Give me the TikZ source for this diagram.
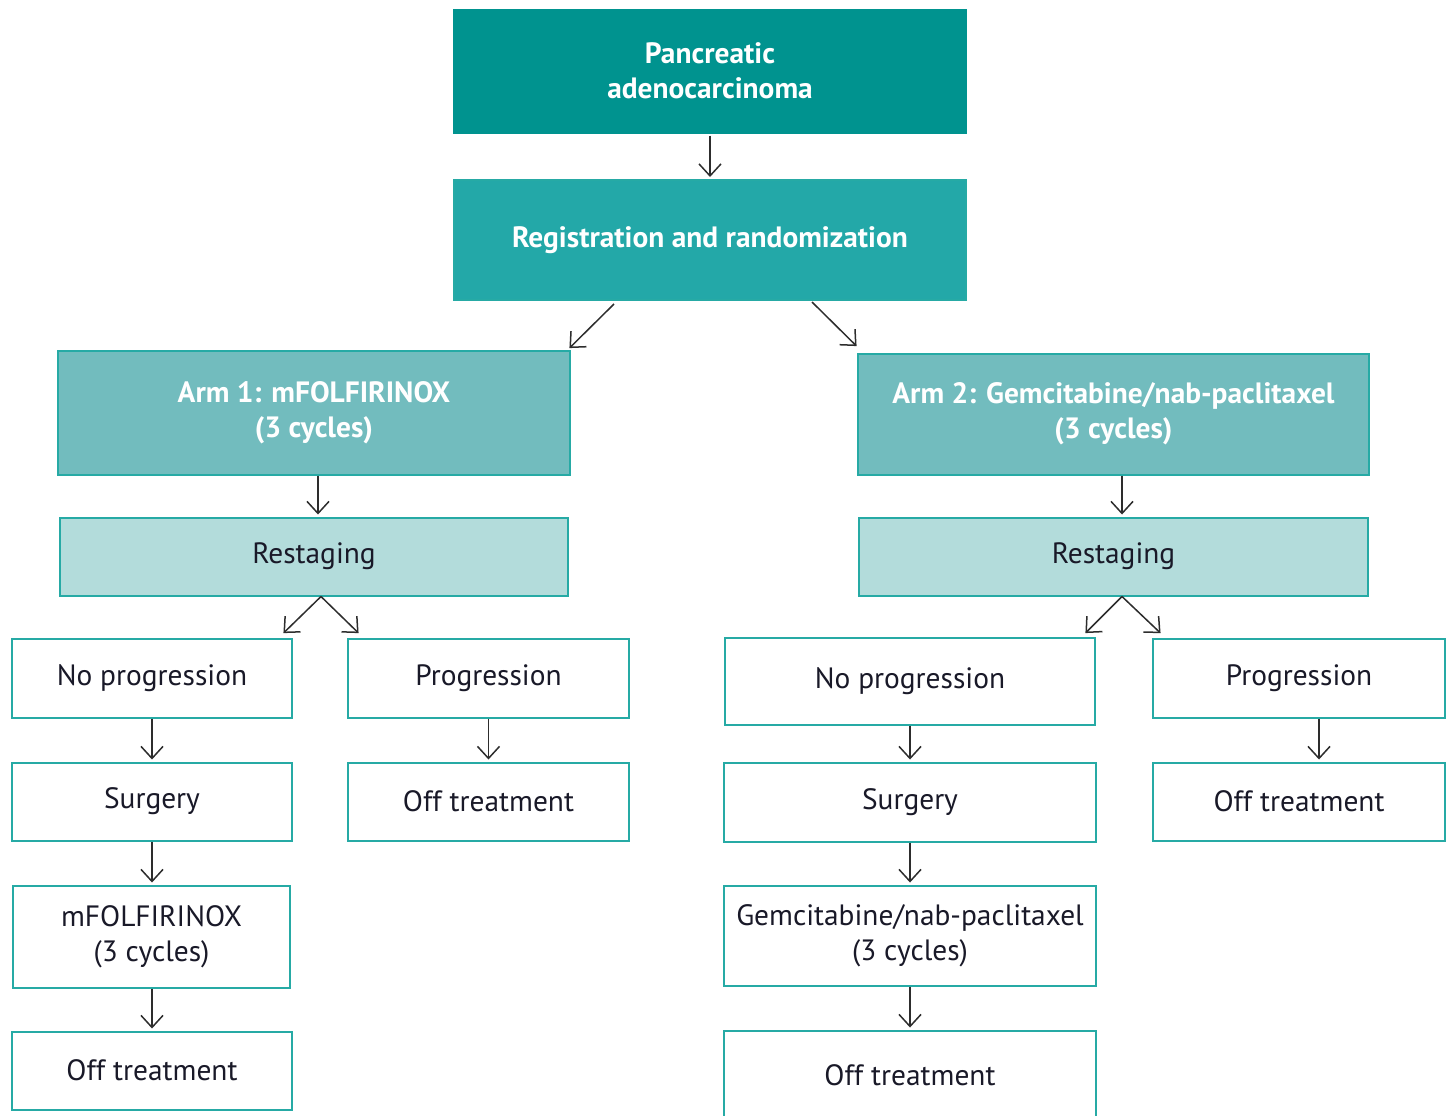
\documentclass[tikz,border=0pt]{standalone}
\usepackage{fontspec}
\setmainfont{PT Sans}
\usetikzlibrary{calc,arrows.meta}
\definecolor{cdark}{RGB}{0,147,143}
\definecolor{creg}{RGB}{35,168,168}
\definecolor{carm}{RGB}{114,188,190}
\definecolor{crest}{RGB}{179,220,219}
\definecolor{cborder}{RGB}{38,170,165}
\definecolor{ctext}{RGB}{25,25,40}
\definecolor{carrow}{RGB}{45,45,45}
\tikzset{
  sz/.style 2 args={minimum width=#1*0.5pt, minimum height=#2*0.5pt},
  box/.style={draw=cborder, line width=1pt, inner sep=0pt, align=center,
    font=\fontsize{14.7}{17.5}\selectfont, text=ctext},
  hbox/.style={box, text=white, font=\fontsize{14.7}{17.5}\selectfont\bfseries},
  wbox/.style={box, fill=white},
  arr/.style={draw=carrow, line width=0.75pt, -{Straight Barb[length=6pt,width=11pt]}, shorten >=1pt}
}
\begin{document}
\begin{tikzpicture}[x=0.5pt,y=-0.5pt]
\useasboundingbox (0,0) rectangle (1446,1115);
\clip (0,0) rectangle (1446,1115);
\fill[white] (0,0) rectangle (1446,1115);
% top
\node[hbox, fill=cdark, draw=cdark, sz={512}{123}] (pan) at (710,71) {Pancreatic\\adenocarcinoma};
\node[hbox, fill=creg, sz={512}{120}] (reg) at (710,240) {Registration and randomization};
\node[hbox, fill=carm, sz={512}{124}] (arm1) at (314,412.5) {Arm 1: mFOLFIRINOX\\(3 cycles)};
\node[hbox, fill=carm, sz={511}{121}] (arm2) at (1113.5,414) {Arm 2: Gemcitabine/nab-paclitaxel\\(3 cycles)};
\node[box, fill=crest, sz={508}{78}] (rest1) at (314,556.5) {Restaging};
\node[box, fill=crest, sz={509}{78}] (rest2) at (1113.5,556.5) {Restaging};
% left arm
\node[wbox, sz={280}{79}] (np1) at (152,678) {No progression};
\node[wbox, sz={281}{79}] (pr1) at (488.5,678) {Progression};
\node[wbox, sz={280}{78}] (su1) at (152,801.5) {Surgery};
\node[wbox, sz={281}{78}] (ot1) at (488.5,801.5) {Off treatment};
\node[wbox, sz={277}{102}] (mf) at (151.5,936.5) {mFOLFIRINOX\\(3 cycles)};
\node[wbox, sz={280}{78}] (ot2) at (152,1070.5) {Off treatment};
% right arm
\node[wbox, sz={370}{87}] (np2) at (910,681) {No progression};
\node[wbox, sz={292}{79}] (pr2) at (1299,678) {Progression};
\node[wbox, sz={372}{79}] (su2) at (910,802) {Surgery};
\node[wbox, sz={292}{78}] (ot3) at (1299,801.5) {Off treatment};
\node[wbox, sz={372}{100}] (gem) at (910,935.5) {Gemcitabine/nab-paclitaxel\\(3 cycles)};
\node[wbox, sz={372}{90}] (ot4) at (910,1075.5) {Off treatment};
% arrows
\draw[arr] ($(pan.south)+(0,2)$) -- (reg.north);
\draw[arr] ($(reg.south)+(-96,3)$) -- ($(arm1.north east)+(-3,0)$);
\draw[arr] ($(reg.south)+(102,1)$) -- ($(arm2.north west)+(1,-5)$);
\draw[arr] ($(arm1.south)+(4,0)$) -- ($(rest1.north)+(4,0)$);
\draw[arr] ($(arm2.south)+(8.5,0)$) -- ($(rest2.north)+(8.5,0)$);
\draw[arr] ($(rest1.south)+(7,0)$) -- ($(np1.north east)+(-11,-3)$);
\draw[arr] ($(rest1.south)+(7,0)$) -- ($(pr1.north west)+(13,-3)$);
\draw[arr] ($(rest2.south)+(8.5,0)$) -- ($(np2.north east)+(-12,-2)$);
\draw[arr] ($(rest2.south)+(8.5,0)$) -- ($(pr2.north west)+(10,-3)$);
\draw[arr] (np1) -- (su1);
\draw[arr] (su1) -- (su1 |- mf.north);
\draw[arr] (su1 |- mf.south) -- (ot2);
\draw[arr] (pr1) -- (ot1);
\draw[arr] (np2) -- (su2);
\draw[arr] (su2) -- (gem);
\draw[arr] (gem) -- (ot4);
\draw[arr] ($(pr2.south)+(20,0)$) -- ($(ot3.north)+(20,0)$);
\end{tikzpicture}
\end{document}
